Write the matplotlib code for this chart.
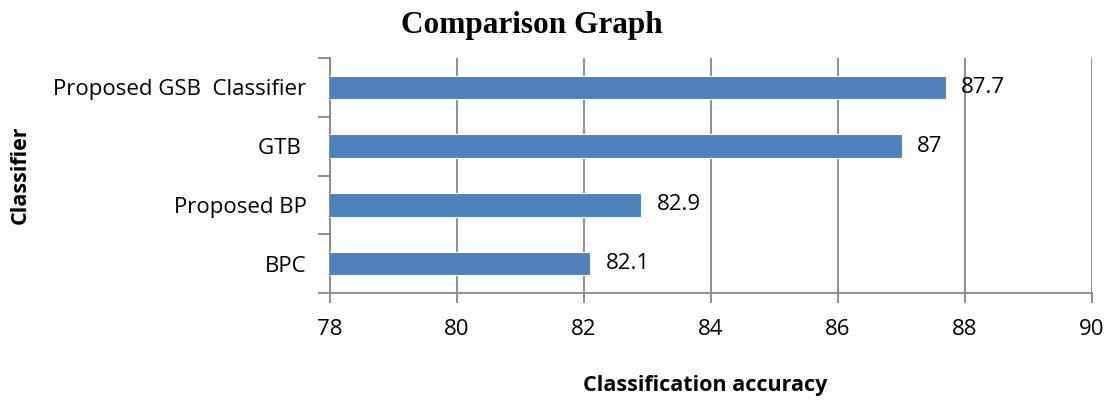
import matplotlib
matplotlib.use("Agg")
import matplotlib.pyplot as plt
import numpy as np

# Classifier accuracy data (bottom to top order on the chart)
classifiers = ["BPC", "Proposed BP", "GTB ", "Proposed GSB  Classifier"]
accuracy = [82.1, 82.9, 87.0, 87.7]
value_labels = ["82.1", "82.9", "87", "87.7"]
x_ticks = [78, 80, 82, 84, 86, 88, 90]

bar_color = "#4F81BD"
axis_gray = "#868686"
label_font = ["Open Sans", "DejaVu Sans"]

fig = plt.figure(figsize=(11.12, 4.0), dpi=100)
ax = fig.add_axes([330 / 1112, 1 - 293 / 400, (1092 - 330) / 1112, (293 - 58) / 400])

y = np.arange(len(classifiers))
ax.barh(y, accuracy, height=0.4, left=0, color=bar_color, edgecolor="white", linewidth=0.8, zorder=3)

ax.set_xlim(78, 90)
ax.set_ylim(-0.5, len(classifiers) - 0.5)

# Vertical gridlines
ax.set_xticks(x_ticks)
ax.set_xticklabels([str(t) for t in x_ticks], family=label_font, fontsize=16)
ax.xaxis.grid(True, color=axis_gray, linewidth=1.3, zorder=0)
ax.tick_params(axis="x", length=7, width=1.3, color=axis_gray, pad=12)

# Category labels centered, tick marks on category boundaries
ax.set_yticks(y)
ax.set_yticklabels(classifiers, family=label_font, fontsize=16)
ax.set_yticks(np.arange(-0.5, len(classifiers), 1.0), minor=True)
ax.tick_params(axis="y", which="major", length=0, pad=17)
ax.tick_params(axis="y", which="minor", length=9, width=1.3, color=axis_gray)

for side in ["top", "right"]:
    ax.spines[side].set_visible(False)
for side in ["left", "bottom"]:
    ax.spines[side].set_color(axis_gray)
    ax.spines[side].set_linewidth(1.3)

# Value labels to the right of each bar
for yi, v, lab in zip(y, accuracy, value_labels):
    ax.annotate(lab, xy=(v, yi), xytext=(11, 0), textcoords="offset points",
                va="center", ha="left", family=label_font, fontsize=16, zorder=4)

fig.text(532 / 1112, 1 - 25 / 400, "Comparison Graph", ha="center", va="center",
         family="Liberation Serif", fontweight="bold", fontsize=22.5)
fig.text(705 / 1112, 1 - 385 / 400, "Classification accuracy", ha="center", va="center",
         family=label_font, fontweight="bold", fontsize=15.5)
fig.text(20 / 1112, 1 - 175 / 400, "Classifier", ha="center", va="center", rotation=90,
         family=label_font, fontweight="bold", fontsize=15.5)

fig.savefig("out.png", dpi=100, facecolor="white")
